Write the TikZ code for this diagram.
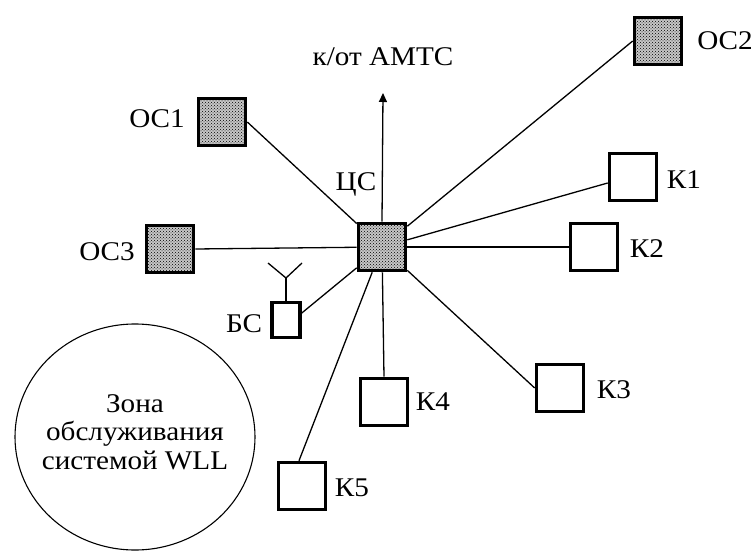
\documentclass[tikz,border=0pt]{standalone}
\usepackage{fontspec}
\setmainfont[FakeStretch=1.08]{Liberation Serif}
\usetikzlibrary{arrows.meta,patterns}
\begin{document}
\begin{tikzpicture}[x=1pt,y=-1pt,
  box/.style={draw=black,line width=3.6pt,inner sep=0pt,minimum width=47pt,minimum height=47pt,fill=white},
  sbox/.style={draw=black,line width=3.6pt,inner sep=0pt,minimum width=47pt,minimum height=47pt,preaction={fill=black!22},pattern=crosshatch dots,pattern color=black},
  lbl/.style={inner sep=0pt,anchor=base,font=\fontsize{27}{29}\selectfont},
  conn/.style={line width=1.3pt}]
\fill[white] (0,0) rectangle (756,551);
\useasboundingbox (0,0) rectangle (756,551);
% boxes
\node[sbox] (c) at (382,247) {};
\node[sbox] (oc1) at (222,122) {};
\node[sbox] (oc3) at (170,249) {};
\node[sbox] (oc2) at (658,41) {};
\node[box] (k1) at (633,177) {};
\node[box] (k2) at (594,247) {};
\node[box] (k3) at (560,388) {};
\node[box] (k4) at (384,402) {};
\node[box] (k5) at (302,486) {};
\node[box,minimum width=28pt,minimum height=35pt] (bs) at (286,320) {};
% labels
\node[lbl] (lc) at (356,190) {ЦС};
\node[lbl] (lamts) at (383,66) {к/от АМТС};
\node[lbl] (loc1) at (157,128) {ОС1};
\node[lbl] (loc3) at (107,260) {ОС3};
\node[lbl] (loc2) at (725,50) {ОС2};
\node[lbl] (lk1) at (684,188) {К1};
\node[lbl] (lk2) at (647,257) {К2};
\node[lbl] (lk3) at (614,398) {К3};
\node[lbl] (lk4) at (433,410) {К4};
\node[lbl] (lk5) at (352,496) {К5};
\node[lbl] (lbs) at (244,332) {БС};
% zone
\draw[line width=1.1pt] (135,437) ellipse [x radius=120, y radius=113];
\node[lbl] (z1) at (135,412) {Зона};
\node[lbl] (z2) at (135,440) {обслуживания};
\node[lbl] (z3) at (135,469) {системой WLL};
% connectors
\draw[conn] (c) -- (oc1.east);
\draw[conn] (c) -- (oc3.east);
\draw[conn] (c) -- (oc2.west);
\draw[conn] (c) -- ([yshift=-6pt]k1.west);
\draw[conn] (c) -- (k2.west);
\draw[conn] (c) -- (k3.west);
\draw[conn] (c) -- (k4.north);
\draw[conn] (c) -- ([xshift=-3pt]k5.north);
\draw[conn] (c) -- ([yshift=7pt]bs.east);
% arrow up
\coordinate (up) at (383,93);
\draw[conn,-{Triangle[length=9pt,width=8pt]}] (c.north) -- (up);
% antenna
\coordinate (af) at (286,278);
\coordinate (al) at (268,263);
\coordinate (ar) at (302,263);
\draw[conn] (bs.north) -- (af);
\draw[conn] (al) -- (af) -- (ar);
\end{tikzpicture}
\end{document}
